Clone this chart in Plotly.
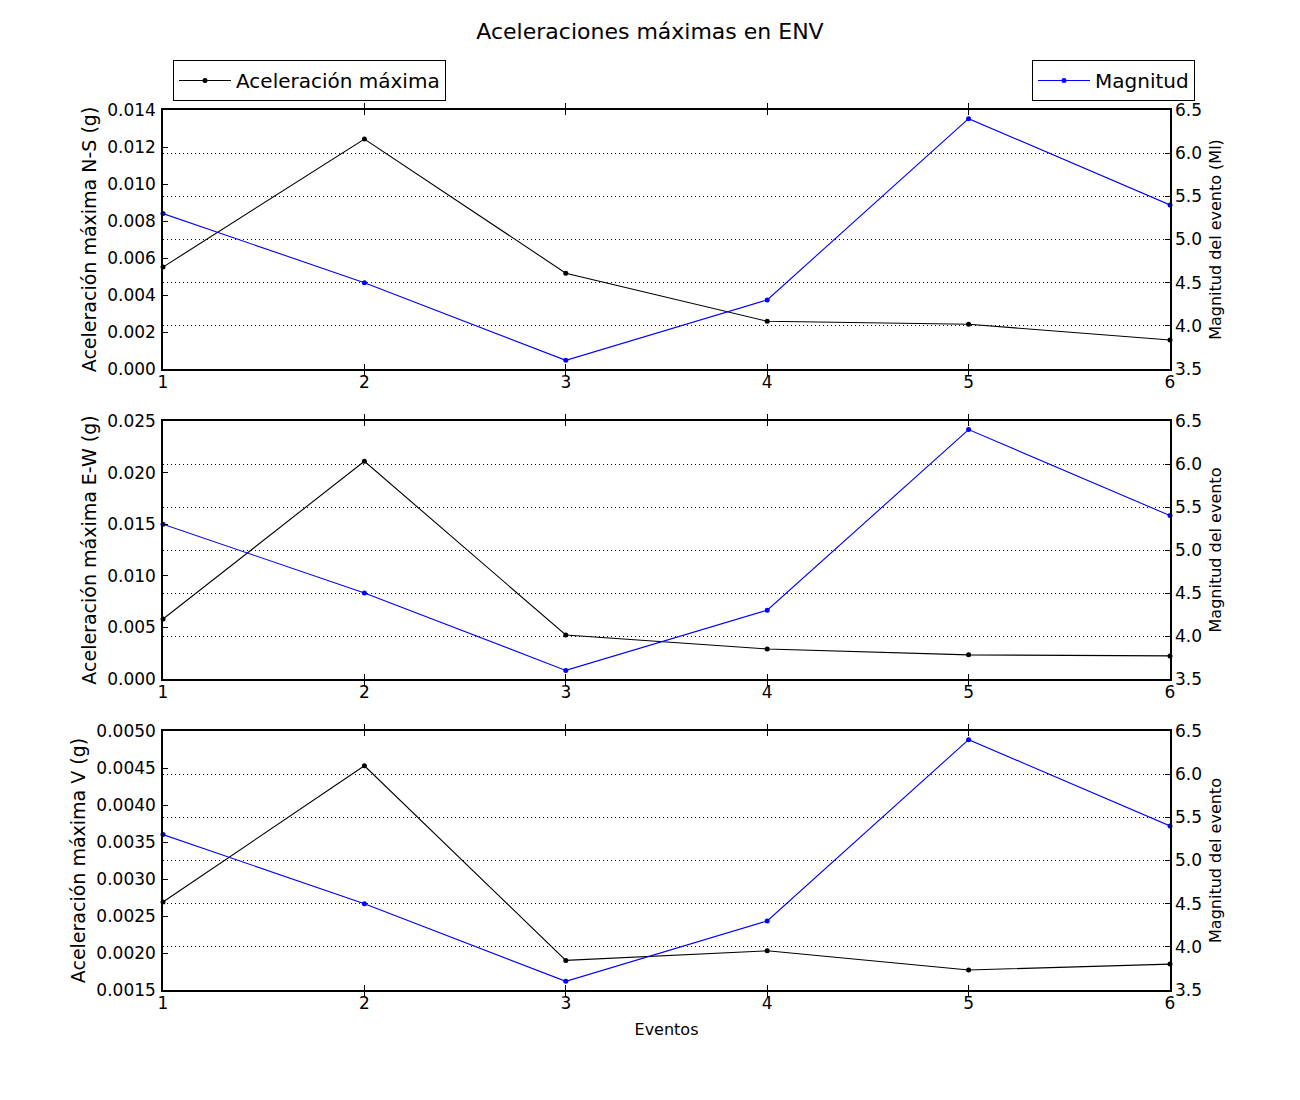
import plotly.graph_objects as go

eventos = [1, 2, 3, 4, 5, 6]
magnitud = [5.3, 4.5, 3.6, 4.3, 6.4, 5.4]
acc_ns = [0.00551, 0.01243, 0.00518, 0.00258, 0.00242, 0.00157]
acc_ew = [0.00581, 0.02110, 0.00426, 0.00291, 0.00234, 0.00224]
acc_v = [0.00269, 0.00453, 0.00190, 0.00203, 0.00177, 0.00185]

left_titles = ["Aceleración máxima N-S (g)", "Aceleración máxima E-W (g)", "Aceleración máxima V (g)"]
right_titles = ["Magnitud del evento (Ml)", "Magnitud del evento", "Magnitud del evento"]
left_ranges = [[0, 0.014], [0, 0.025], [0.0015, 0.005]]
left_dtick = [0.002, 0.005, 0.0005]
left_fmt = [".3f", ".3f", ".4f"]
series = [acc_ns, acc_ew, acc_v]

FONT = "DejaVu Sans"
W, H = 1300, 1100
OFF = 8  # page body offset
L, R, T, B = 163, 1170, 110, 990
ph = B - T
rows_px = [(110, 369), (421, 679), (731, 990)]

fig = go.Figure()
layout = dict(
    width=W, height=H,
    margin=dict(l=L - OFF, r=W - R + OFF, t=T - OFF, b=H - B + OFF),
    paper_bgcolor="white", plot_bgcolor="white",
    font=dict(family=FONT, size=16, color="black"),
    showlegend=True,
)

for i in range(3):
    xa = "x" if i == 0 else f"x{i+1}"
    ya_l = "y" if i == 0 else f"y{2*i+1}"
    ya_r = f"y{2*i+2}"
    top, bot = rows_px[i]
    dom = [(B - bot) / ph, (B - top) / ph]
    fig.add_trace(go.Scatter(
        x=eventos, y=series[i], mode="lines+markers",
        line=dict(color="black", width=1.1), marker=dict(size=5, color="black"),
        name="Aceleración máxima", xaxis=xa, yaxis=ya_l,
        legend="legend", showlegend=(i == 0), cliponaxis=False,
    ))
    fig.add_trace(go.Scatter(
        x=eventos, y=magnitud, mode="lines+markers",
        line=dict(color="blue", width=1.1), marker=dict(size=5, color="blue"),
        name="Magnitud", xaxis=xa, yaxis=ya_r,
        legend="legend2", showlegend=(i == 0), cliponaxis=False,
    ))
    xkey = "xaxis" if i == 0 else f"xaxis{i+1}"
    ylkey = "yaxis" if i == 0 else f"yaxis{2*i+1}"
    yrkey = f"yaxis{2*i+2}"
    layout[xkey] = dict(
        domain=[0, 1], anchor=ya_l, range=[1, 6], dtick=1, tick0=1,
        showgrid=False, zeroline=False, showline=True, linecolor="black", linewidth=1.5,
        mirror="allticks", ticks="inside", ticklen=5, tickcolor="black",
        tickfont=dict(size=17), automargin=False, ticklabelstandoff=-3,
        title=dict(text="Eventos" if i == 2 else "", font=dict(size=16), standoff=12),
    )
    layout[ylkey] = dict(
        domain=dom, anchor=xa, range=left_ranges[i], dtick=left_dtick[i], tick0=0,
        tickformat=left_fmt[i], showgrid=False, zeroline=False,
        showline=True, linecolor="black", linewidth=1.5, mirror=True,
        ticks="inside", ticklen=5, tickcolor="black", tickfont=dict(size=17),
        automargin=False, ticklabelstandoff=2,
        title=dict(text=left_titles[i], font=dict(size=19), standoff=6),
    )
    layout[yrkey] = dict(
        overlaying=ya_l, side="right", anchor=xa, range=[3.5, 6.5], dtick=0.5,
        tickformat=".1f", showgrid=True, gridcolor="black", griddash="1px,3px", gridwidth=1,
        zeroline=False, ticks="inside", ticklen=5, tickcolor="black",
        tickfont=dict(size=17), automargin=False, ticklabelstandoff=4,
        title=dict(text=right_titles[i], font=dict(size=16), standoff=8),
    )

leg_y = (B - 60) / ph
layout["legend"] = dict(
    x=(173 - L) / (R - L), y=leg_y, xanchor="left", yanchor="top",
    bordercolor="black", borderwidth=1, bgcolor="white",
    font=dict(size=20, family=FONT), itemwidth=52,
)
layout["legend2"] = dict(
    x=(1195 - L) / (R - L), y=leg_y, xanchor="right", yanchor="top",
    bordercolor="black", borderwidth=1, bgcolor="white",
    font=dict(size=20, family=FONT), itemwidth=52,
)
layout["title"] = dict(
    text="Aceleraciones máximas en ENV", x=(650 - OFF) / W, xanchor="center",
    y=1 - (31 - OFF) / H, yanchor="middle", yref="container",
    font=dict(size=22, family=FONT),
)

fig.update_layout(**layout)
fig.write_html("out.html")
